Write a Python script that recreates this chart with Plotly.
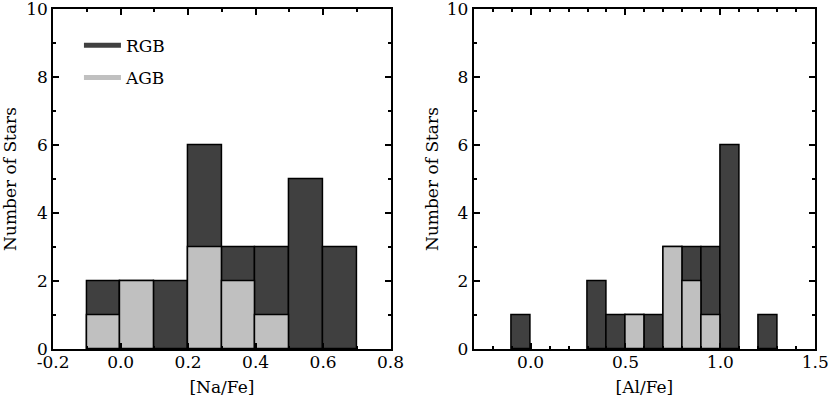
import plotly.graph_objects as go
from plotly.subplots import make_subplots

# [Na/Fe] histogram (bin centres, width 0.1)
na_bins = [-0.05, 0.05, 0.15, 0.25, 0.35, 0.45, 0.55, 0.65]
na_all = [2, 2, 2, 6, 3, 3, 5, 3]
na_agb = [1, 2, 0, 3, 2, 1, 0, 0]

# [Al/Fe] histogram
al_bins = [-0.05, 0.35, 0.45, 0.55, 0.65, 0.75, 0.85, 0.95, 1.05, 1.25]
al_all = [1, 2, 1, 1, 1, 3, 3, 3, 6, 1]
al_agb = [0, 0, 0, 1, 0, 3, 2, 1, 0, 0]

# tick labels (matplotlib-style hyphen minus)
na_tickvals = [-0.2, 0.0, 0.2, 0.4, 0.6, 0.8]
na_ticktext = ['-0.2', '0.0', '0.2', '0.4', '0.6', '0.8']
al_tickvals = [0.0, 0.5, 1.0, 1.5]
al_ticktext = ['0.0', '0.5', '1.0', '1.5']
y_tickvals = [0, 2, 4, 6, 8, 10]

DARK = '#404040'
LIGHT = '#c0c0c0'
FONT = 'DejaVu Serif'

fig = make_subplots(rows=1, cols=2)


def add_hist(bins, counts, color, col):
    xs = [b for b, c in zip(bins, counts) if c > 0]
    ys = [c for c in counts if c > 0]
    fig.add_trace(go.Bar(x=xs, y=ys, width=0.1, marker=dict(color=color, line=dict(color='black', width=1.5)),
                         showlegend=False, hoverinfo='skip'), row=1, col=col)


add_hist(na_bins, na_all, DARK, 1)
add_hist(na_bins, na_agb, LIGHT, 1)
add_hist(al_bins, al_all, DARK, 2)
add_hist(al_bins, al_agb, LIGHT, 2)

# legend entries
fig.add_trace(go.Scatter(x=[None], y=[None], mode='lines', name='RGB', legendgroup='rgb',
                         line=dict(color=DARK, width=5)), row=1, col=1)
fig.add_trace(go.Scatter(x=[None], y=[None], mode='lines', name='AGB', legendgroup='agb',
                         line=dict(color=LIGHT, width=5)), row=1, col=1)

axis_style = dict(showline=True, linecolor='black', linewidth=2, mirror='ticks', ticks='inside',
                  ticklen=6, tickwidth=1.5, tickcolor='black', showgrid=False, zeroline=False,
                  automargin=False, ticklabeloverflow='allow',
                  tickfont=dict(family=FONT, size=17, color='black'),
                  title_font=dict(family=FONT, size=17, color='black'))
minor_style = dict(ticks='inside', ticklen=3, tickcolor='black', tickwidth=1.5)

fig.update_xaxes(**axis_style)
fig.update_yaxes(**axis_style)

fig.update_xaxes(range=[-0.2, 0.8], tickvals=na_tickvals, ticktext=na_ticktext,
                 minor=dict(dtick=0.1, tick0=0, **minor_style), ticklabelstandoff=-3,
                 title_text='[Na/Fe]', title_standoff=12, domain=[0.064, 0.470], row=1, col=1)
fig.update_xaxes(range=[-0.3, 1.5], tickvals=al_tickvals, ticktext=al_ticktext,
                 minor=dict(dtick=0.1, tick0=0, **minor_style), ticklabelstandoff=-3,
                 title_text='[Al/Fe]', title_standoff=12, domain=[0.570, 0.981], row=1, col=2)
fig.update_yaxes(range=[0, 10], tickvals=y_tickvals,
                 minor=dict(dtick=1, **minor_style),
                 title_text='Number of Stars', domain=[0.121, 0.977])
fig.update_yaxes(title_standoff=12, row=1, col=1)
fig.update_yaxes(title_standoff=4, row=1, col=2)

fig.update_layout(
    width=831, height=397,
    margin=dict(l=0, r=0, t=0, b=0),
    plot_bgcolor='white', paper_bgcolor='white',
    barmode='overlay', bargap=0,
    font=dict(family=FONT, size=17, color='black'),
    legend=dict(x=0.095, y=0.93, xanchor='left', yanchor='top', bgcolor='rgba(0,0,0,0)',
                traceorder='grouped', tracegroupgap=7, itemwidth=37,
                font=dict(family=FONT, size=17, color='black')),
)

# drop the page's default body margin so the figure sits at the window corner
fig.write_html("out.html", config={'displayModeBar': False},
               post_script="document.body.style.margin='0';")
